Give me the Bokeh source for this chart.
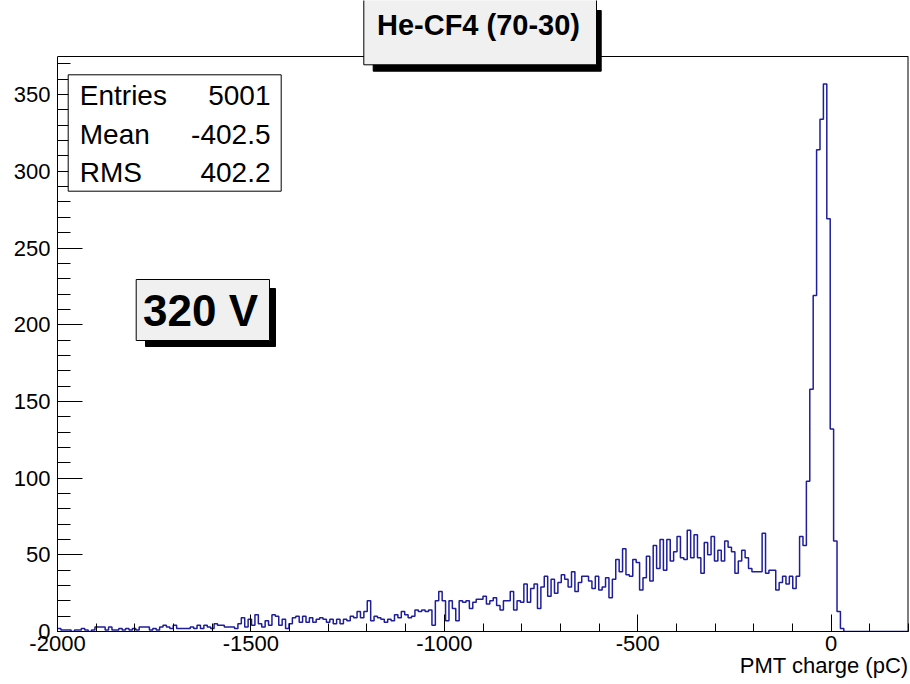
import numpy as np
from bokeh.plotting import figure
from bokeh.models import (SingleIntervalTicker, BoxAnnotation, Label, Range1d,
                          PrintfTickFormatter, Title)
from bokeh.embed import file_html
from bokeh.resources import INLINE

# ---------------- data ----------------
x_min, x_max = -2000.0, 200.0
n_bins = 250

counts_a = [2, 1, 1, 1, 0, 1, 1, 2, 1, 0, 1, 3, 3, 3, 1, 3, 1, 1, 2, 1,
            2, 1, 2, 1, 3, 3, 3, 1, 2, 1, 3, 4, 3, 2, 4, 2, 2, 2, 2, 3,
            2, 4, 2, 4, 3, 2, 5, 4, 4, 3]
counts_b = [3, 3, 2, 5, 9, 3, 8, 4, 11, 5, 3, 7, 4, 11, 10, 4, 8, 2, 5, 9, 10]
counts_c = [6, 10, 6, 9, 6, 8, 9, 8, 6, 8, 5, 8, 5, 8, 7, 10, 9, 13, 9, 13,
            20, 7, 10, 9, 8, 6, 8, 7, 11, 9, 13, 11, 9, 10, 14, 13, 14, 13, 14, 4,
            20, 26, 20, 7]
counts_d = [20, 15, 7, 20, 19, 20, 15, 19, 21, 21, 23, 18, 20, 22, 17, 14, 20, 20,
            26, 14, 20, 19, 31, 19, 28, 31, 15]
counts_e = [29, 36, 23, 34, 25, 32, 37, 34, 29, 39, 26, 32, 36, 36, 33, 28, 36, 27,
            29, 35, 22, 34]
counts_f = [47, 39, 54, 37, 36, 47, 45, 27, 35, 49, 33, 56, 41, 60, 40, 60, 46, 52,
            62, 48, 47, 66, 48, 63, 48, 38, 58, 50, 62, 46]
counts_g = [53, 46, 59, 55, 52, 38, 46, 53, 48, 41, 39, 39, 39, 64, 38, 40, 40, 27,
            32, 36, 31, 36, 28, 36, 62, 56]
counts_peak = [98, 158, 219, 314, 334, 357, 269, 132, 59, 13, 2]
counts_tail = [0] * 19

counts = counts_a + counts_b + counts_c + counts_d + counts_e + counts_f + counts_g + counts_peak + counts_tail

title_text = "He-CF4 (70-30)"
stats_names = ["Entries", "Mean", "RMS"]
stats_values = ["5001", "-402.5", "402.2"]
voltage_text = "320 V"
x_title = "PMT charge (pC)"

# ---------------- figure ----------------
edges = np.linspace(x_min, x_max, n_bins + 1)
y_max = 1.05 * max(counts)           # top of the histogram frame
FRAME_H = 575.0                      # pixel height of histogram frame
TOTAL_H = 631.0                      # plot-area height incl. space above frame
y_top = y_max * TOTAL_H / FRAME_H    # data value at canvas top

FONT = "Liberation Sans"

p = figure(width=910, height=684,
           x_range=Range1d(x_min, x_max), y_range=Range1d(0, y_top),
           output_backend="svg", toolbar_location=None,
           min_border_left=57, min_border_right=2,
           min_border_top=0, min_border_bottom=53)

p.background_fill_color = "white"
p.border_fill_color = "white"
p.outline_line_color = None
p.xgrid.visible = False
p.ygrid.visible = False

p.step(edges, list(counts) + [counts[-1]], mode="after",
       line_color="#1e1e9c", line_width=1.5)

# frame: top and right edges
p.segment(x0=[x_min], y0=[y_max], x1=[x_max], y1=[y_max], line_color="black", line_width=1)
p.segment(x0=[x_max], y0=[0], x1=[x_max], y1=[y_max], line_color="black", line_width=2)

# axes
p.xaxis.ticker = SingleIntervalTicker(interval=500, num_minor_ticks=5)
p.yaxis.ticker = SingleIntervalTicker(interval=50, num_minor_ticks=5)
p.xaxis.formatter = PrintfTickFormatter(format="%d")
p.yaxis.formatter = PrintfTickFormatter(format="%d")
p.yaxis.bounds = (0, y_max)
for ax in p.xaxis:
    ax.major_tick_in = 17
    ax.major_tick_out = 0
    ax.minor_tick_in = 8
    ax.minor_tick_out = 0
    ax.major_label_standoff = 4
for ax in p.yaxis:
    ax.major_tick_in = 25
    ax.major_tick_out = 0
    ax.minor_tick_in = 13
    ax.minor_tick_out = 0
    ax.major_label_standoff = 7
for ax in p.xaxis + p.yaxis:
    ax.axis_line_color = "black"
    ax.major_tick_line_color = "black"
    ax.minor_tick_line_color = "black"
    ax.major_label_text_font = FONT
    ax.major_label_text_font_size = "22px"
    ax.major_label_text_color = "black"

# x-axis title (right aligned, below the axis)
p.add_layout(Title(text=x_title, align="right", text_font=FONT, text_font_size="22px",
                   text_font_style="normal", text_color="black", standoff=-5, offset=0),
             "below")

# title box with shadow (screen coords relative to frame bottom-left)
p.add_layout(BoxAnnotation(left=315.7, right=543.7, top=621, bottom=560.3,
                           left_units="screen", right_units="screen",
                           top_units="screen", bottom_units="screen",
                           fill_color="black", fill_alpha=1.0, line_color="black", line_alpha=1.0))
p.add_layout(BoxAnnotation(left=306.3, right=539, top=640, bottom=566.7,
                           left_units="screen", right_units="screen",
                           top_units="screen", bottom_units="screen",
                           fill_color="#f0f0f0", fill_alpha=1.0,
                           line_color="black", line_alpha=1.0, line_width=1))
p.add_layout(Label(x=421, y=607, x_units="screen", y_units="screen",
                   text=title_text, text_align="center", text_baseline="middle",
                   text_font=FONT, text_font_size="29px", text_font_style="bold",
                   text_color="black"))

# stats box
p.add_layout(BoxAnnotation(left=10.7, right=223.7, top=556.7, bottom=440.3,
                           left_units="screen", right_units="screen",
                           top_units="screen", bottom_units="screen",
                           fill_color="white", fill_alpha=1.0,
                           line_color="black", line_alpha=1.0, line_width=1))
row_y = [536, 497, 459]
for name, val, yy in zip(stats_names, stats_values, row_y):
    p.add_layout(Label(x=22.3, y=yy, x_units="screen", y_units="screen",
                       text=name, text_align="left", text_baseline="middle",
                       text_font=FONT, text_font_size="28px", text_color="black"))
    p.add_layout(Label(x=213, y=yy, x_units="screen", y_units="screen",
                       text=val, text_align="right", text_baseline="middle",
                       text_font=FONT, text_font_size="28px", text_color="black"))

# voltage box with shadow
p.add_layout(BoxAnnotation(left=88, right=218, top=343, bottom=285,
                           left_units="screen", right_units="screen",
                           top_units="screen", bottom_units="screen",
                           fill_color="black", fill_alpha=1.0, line_color="black", line_alpha=1.0))
p.add_layout(BoxAnnotation(left=78.7, right=212, top=352, bottom=291,
                           left_units="screen", right_units="screen",
                           top_units="screen", bottom_units="screen",
                           fill_color="#f0f0f0", fill_alpha=1.0,
                           line_color="black", line_alpha=1.0, line_width=1))
p.add_layout(Label(x=143, y=321.5, x_units="screen", y_units="screen",
                   text=voltage_text, text_align="center", text_baseline="middle",
                   text_font=FONT, text_font_size="44px", text_font_style="bold",
                   text_color="black"))

open("out.html", "w").write(file_html(p, INLINE))
